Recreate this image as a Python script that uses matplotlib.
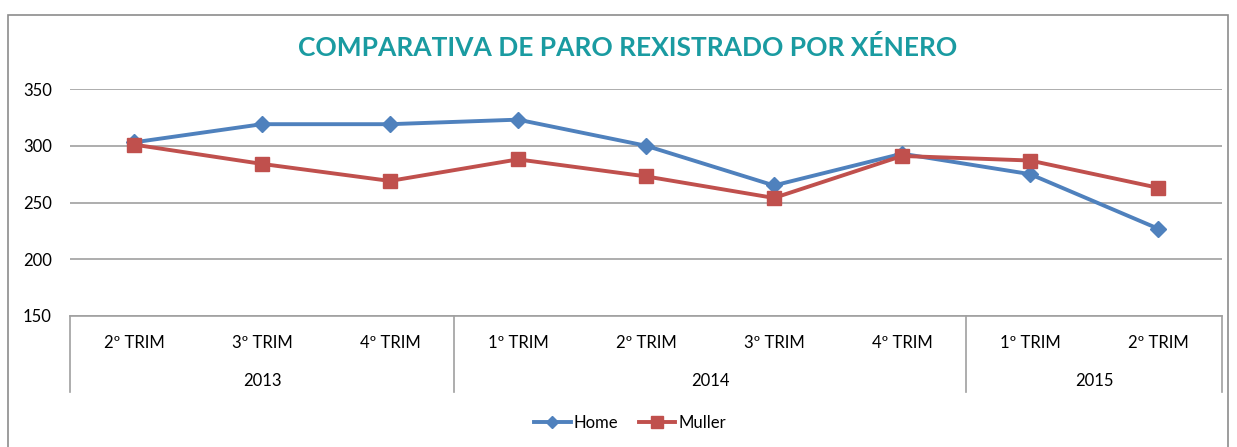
import matplotlib.pyplot as plt
from matplotlib.patches import Rectangle
from matplotlib.transforms import blended_transform_factory

trimestres = ['2º TRIM', '3º TRIM', '4º TRIM', '1º TRIM', '2º TRIM', '3º TRIM', '4º TRIM', '1º TRIM', '2º TRIM']
anos = ['2013', '2014', '2015']
ano_grupos = [3, 4, 2]
home = [303, 319, 319, 323, 300, 265, 293, 275, 227]
muller = [301, 284, 269, 288, 273, 254, 291, 287, 263]

plt.rcParams['font.family'] = ['Lato', 'DejaVu Sans']

W, H = 1237, 447
fig = plt.figure(figsize=(W / 100, H / 100), dpi=100)

# chart border
fig.patches.append(Rectangle((8 / W, -0.01), (1228 - 8) / W, (H - 15) / H + 0.01,
                             transform=fig.transFigure, fill=False,
                             edgecolor='#8c8c8c', linewidth=1.2))

ax = fig.add_axes([70 / W, 1 - 316 / H, (1222 - 70) / W, (316 - 89) / H])

x = list(range(len(trimestres)))
ax.plot(x, home, color='#4F81BD', lw=2.8, marker='D', markersize=8, label='Home', zorder=3)
ax.plot(x, muller, color='#C0504D', lw=2.8, marker='s', markersize=10, label='Muller', zorder=4)

ax.set_xlim(-0.5, len(trimestres) - 0.5)
ax.set_ylim(150, 350)
ax.set_yticks([150, 200, 250, 300, 350])
ax.yaxis.grid(True, color='#a0a0a0', lw=1.2)
ax.set_axisbelow(True)
for s in ['top', 'right', 'left']:
    ax.spines[s].set_visible(False)
ax.spines['bottom'].set_color('#a0a0a0')
ax.spines['bottom'].set_linewidth(1.2)
ax.tick_params(axis='y', length=0, labelsize=12, pad=13)
ax.set_xticks([])

# multi-level category axis
tr = blended_transform_factory(ax.transData, ax.transAxes)
ph = 316 - 89
depth = -(392 - 316) / ph
bounds = [-0.5]
for n in ano_grupos:
    bounds.append(bounds[-1] + n)
for b in bounds:
    ax.plot([b, b], [0, depth], transform=tr, color='#a0a0a0', lw=1.2, clip_on=False)
for i, t in enumerate(trimestres):
    ax.text(i, -(343 - 316) / ph, t, transform=tr, ha='center', va='center', fontsize=12)
for i, a in enumerate(anos):
    ax.text((bounds[i] + bounds[i + 1]) / 2, -(381 - 316) / ph, a, transform=tr,
            ha='center', va='center', fontsize=12)

fig.text(628 / W, 1 - 47 / H, 'COMPARATIVA DE PARO REXISTRADO POR XÉNERO',
         ha='center', va='center', fontsize=19, fontweight='bold', color='#1A9BA1')

fig.legend(loc='center', bbox_to_anchor=(630 / W, 1 - 423 / H), ncol=2, frameon=False,
           fontsize=12, handlelength=2.2, handletextpad=0.2, columnspacing=1.2,
           markerscale=0.8)

fig.savefig('out.png', dpi=100)
